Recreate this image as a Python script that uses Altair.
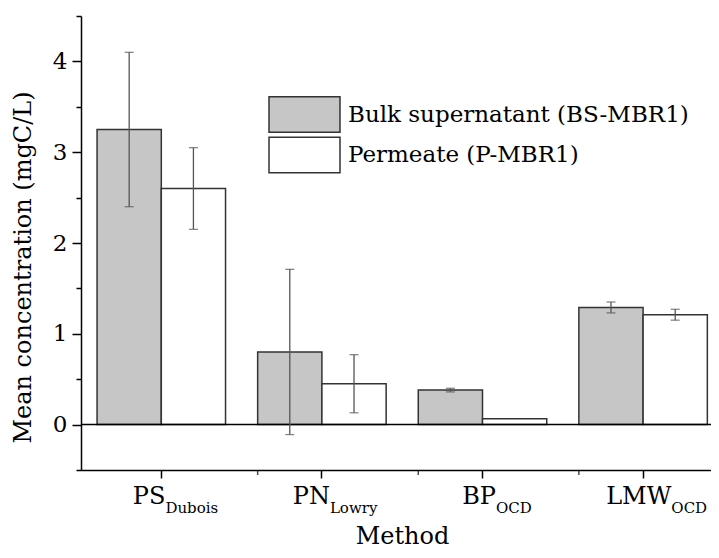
import altair as alt
import pandas as pd

# ---- data ----
methods = ["PS_Dubois", "PN_Lowry", "BP_OCD", "LMW_OCD"]
main_labels = ["PS", "PN", "BP", "LMW"]
sub_labels = ["Dubois", "Lowry", "OCD", "OCD"]
series = ["Bulk supernatant (BS-MBR1)", "Permeate (P-MBR1)"]
bulk_mean = [3.25, 0.80, 0.38, 1.29]
bulk_err = [0.85, 0.91, 0.02, 0.06]
perm_mean = [2.60, 0.45, 0.065, 1.21]
perm_err = [0.45, 0.32, 0.0, 0.06]
y_ticks = [-0.5, 0, 0.5, 1, 1.5, 2, 2.5, 3, 3.5, 4, 4.5]

rows = []
for i, m in enumerate(methods):
    for s, mean, err in ((series[0], bulk_mean[i], bulk_err[i]),
                         (series[1], perm_mean[i], perm_err[i])):
        rows.append({"method": m, "series": s, "mean": mean,
                     "lo": mean - err, "hi": mean + err, "err": err})
df = pd.DataFrame(rows)
lab_df = pd.DataFrame({"method": methods, "main": main_labels, "sub": sub_labels})
minor_df = pd.DataFrame({"method": methods[1:]})

FONT = "DejaVu Serif"
W, H = 630, 454          # visible plot width (the x range runs on past the page edge)
RANGE_W = 642.4
MAIN_FS, SUB_FS = 24, 15

# approximate DejaVu Serif advance widths (em) for centring the subscripted labels
CW = {"P": .68, "S": .69, "N": .82, "B": .74, "L": .67, "M": .95, "W": 1.03,
      "D": .80, "O": .82, "C": .72, "u": .64, "b": .64, "o": .60, "i": .32,
      "s": .51, "w": .86, "r": .48, "y": .59}


def tw(t, fs):
    return sum(CW.get(c, .6) for c in t) * fs


xscale = alt.Scale(domain=methods, range=[0, RANGE_W], paddingInner=0.2, paddingOuter=0.1)
xaxis = alt.Axis(labels=False, tickSize=8, tickWidth=1.5, tickColor="black",
                 domainColor="black", domainWidth=1.5, title="Method",
                 titleFont=FONT, titleFontSize=24, titleFontWeight="normal",
                 titleColor="black", titleX=321, titleY=73,
                 titleBaseline="alphabetic", titleAlign="center")
X = alt.X("method:N", scale=xscale, axis=xaxis, sort=methods)
XOFF = alt.XOffset("series:N", scale=alt.Scale(domain=series, paddingInner=0, paddingOuter=0))

yscale = alt.Scale(domain=[-0.5, 4.5], nice=False, zero=False)
yaxis = alt.Axis(values=y_ticks,
                 labelExpr="datum.value % 1 === 0 ? format(datum.value, 'd') : ''",
                 tickSize={"condition": {"test": "datum.value % 1 === 0", "value": 9}, "value": 5},
                 tickWidth=1.5, tickColor="black", domainColor="black", domainWidth=1.5,
                 labelFont=FONT, labelFontSize=23, labelColor="black", labelPadding=5,
                 grid=False, title="Mean concentration (mgC/L)", titleFont=FONT,
                 titleFontSize=24, titleFontWeight="normal", titleColor="black",
                 titleAngle=-90, titleX=-58, titleY=251, titleAlign="center",
                 titleBaseline="middle")

base = alt.Chart(df)

bars = base.mark_bar(stroke="#333333", strokeWidth=1.5).encode(
    x=X, xOffset=XOFF,
    y=alt.Y("mean:Q", scale=yscale, axis=yaxis),
    color=alt.Color("series:N",
                    scale=alt.Scale(domain=series, range=["#c6c6c6", "#ffffff"]),
                    legend=alt.Legend(title=None, orient="none", legendX=205, legendY=80,
                                      padding=0, symbolType="M-2,-1H2V1H-2Z",
                                      symbolSize=1260, symbolStrokeColor="#333333",
                                      symbolStrokeWidth=1.5, symbolOpacity=1,
                                      labelOffset=25, labelFont=FONT, labelFontSize=23,
                                      labelColor="black", labelLimit=0, rowPadding=-2.5)),
)

err_base = base.transform_filter("datum.err > 0")
err_rule = err_base.mark_rule(color="#555555", strokeWidth=1.3).encode(
    x=X, xOffset=XOFF, y=alt.Y("lo:Q", scale=yscale), y2="hi:Q")
cap_lo = err_base.mark_tick(color="#555555", thickness=1.3, size=9).encode(
    x=X, xOffset=XOFF, y=alt.Y("lo:Q", scale=yscale))
cap_hi = err_base.mark_tick(color="#555555", thickness=1.3, size=9).encode(
    x=X, xOffset=XOFF, y=alt.Y("hi:Q", scale=yscale))

zero = alt.Chart(pd.DataFrame({"v": [0]})).mark_rule(color="black", strokeWidth=1.5).encode(
    y=alt.Y("v:Q", scale=yscale), x=alt.value(0), x2=alt.value(RANGE_W))

minor = alt.Chart(minor_df).mark_tick(color="black", thickness=1.5, size=5,
                                      orient="vertical", yOffset=2.5).encode(
    x=alt.X("method:N", scale=xscale, axis=xaxis, sort=methods, bandPosition=0),
    y=alt.Y(datum=-0.5, scale=yscale))

label_layers = []
for m, mn, sb in zip(methods, main_labels, sub_labels):
    jdx = 14 + (tw(mn, MAIN_FS) - tw(sb, SUB_FS)) / 2
    src = alt.Chart(lab_df).transform_filter(alt.datum.method == m)
    label_layers.append(src.mark_text(align="right", baseline="alphabetic", dx=jdx,
                                      font=FONT, fontSize=MAIN_FS, color="black").encode(
        x=X, y=alt.value(488), text="main:N"))
    label_layers.append(src.mark_text(align="left", baseline="alphabetic", dx=jdx,
                                      font=FONT, fontSize=SUB_FS, color="black").encode(
        x=X, y=alt.value(497), text="sub:N"))

chart = alt.layer(bars, zero, err_rule, cap_lo, cap_hi, minor, *label_layers).properties(
    width=W, height=H,
    autosize=alt.AutoSizeParams(type="none"),
    padding={"left": 73, "top": 8, "right": 0, "bottom": 80},
).configure(background="white", view=alt.ViewConfig(stroke=None))

chart.save("out.html", embed_options={"renderer": "svg", "actions": False})
